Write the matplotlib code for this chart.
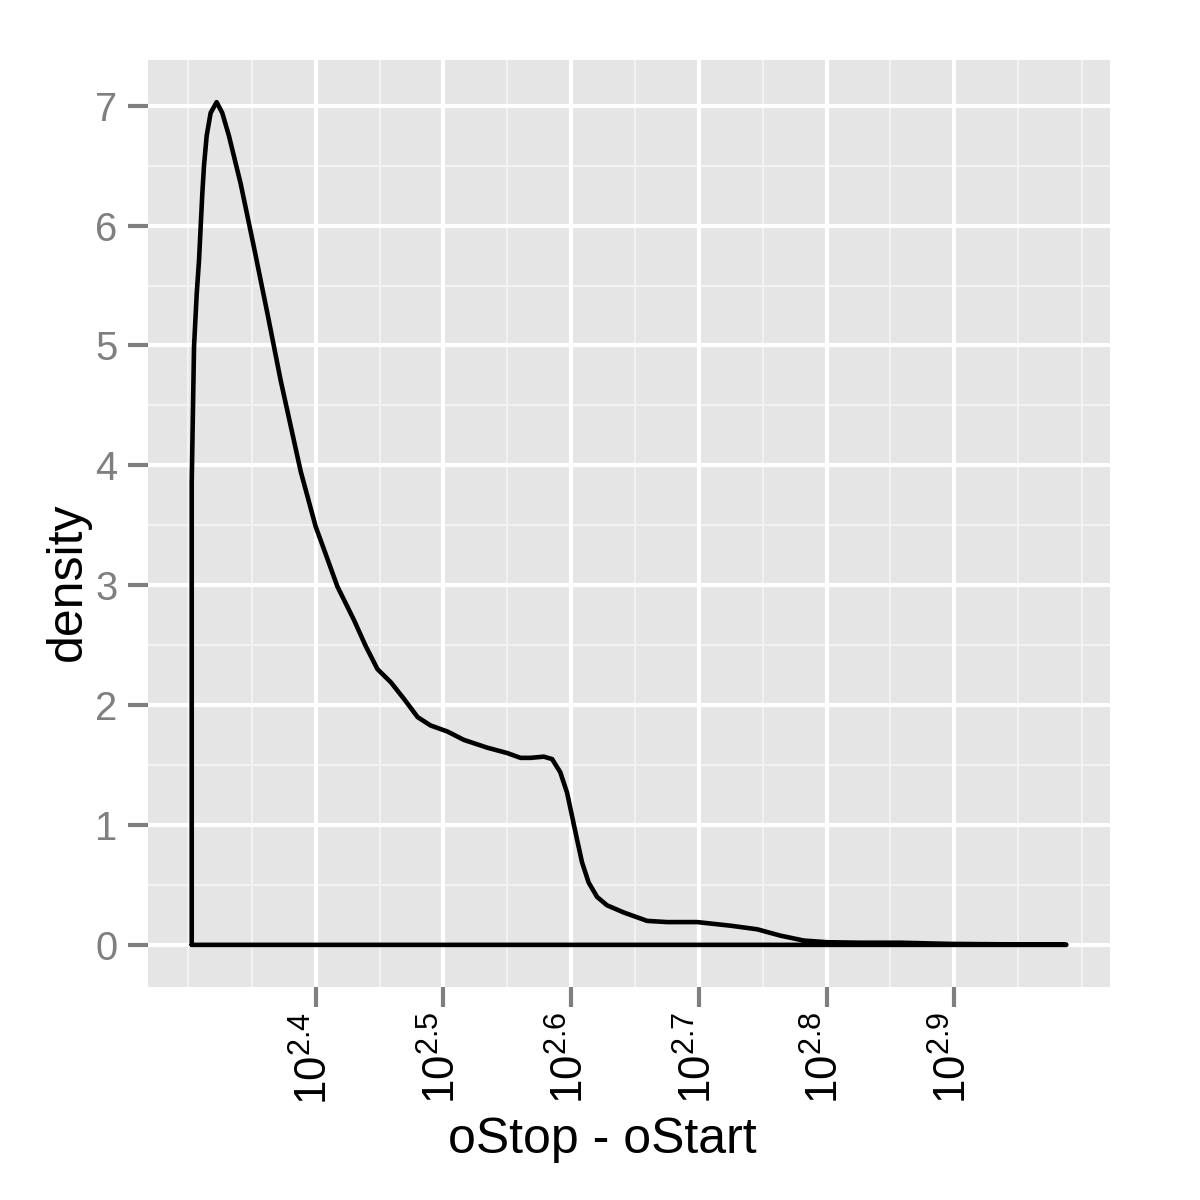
import numpy as np
import matplotlib
matplotlib.use("Agg")
import matplotlib.pyplot as plt

plt.rcParams['font.family'] = ['Liberation Sans', 'DejaVu Sans']
plt.rcParams['mathtext.fontset'] = 'custom'
plt.rcParams['mathtext.rm'] = 'Liberation Sans'
plt.rcParams['mathtext.it'] = 'Liberation Sans'

# density curve, x in log10 units of (oStop - oStart)
x_vals = [2.3030, 2.3048, 2.3069, 2.3087, 2.3113, 2.3126, 2.3147, 2.3178, 2.3225,
          2.3269, 2.3321, 2.3413, 2.3517, 2.3622, 2.3726, 2.3883, 2.4000,
          2.4065, 2.4170, 2.4300, 2.4393, 2.4484, 2.4589, 2.4693, 2.4798, 2.4900,
          2.5031, 2.5160, 2.5343, 2.5500, 2.5604, 2.5683, 2.5786, 2.5851, 2.5915,
          2.5968, 2.6007, 2.6046, 2.6085, 2.6137, 2.6203, 2.6281, 2.6412, 2.6595,
          2.6752, 2.6987, 2.7247, 2.7456, 2.7638, 2.7821, 2.8004, 2.8264, 2.8577,
          2.8969, 2.9360, 2.9876]
y_vals = [3.86, 4.99, 5.43, 5.71, 6.27, 6.50, 6.75, 6.94, 7.03,
          6.94, 6.75, 6.35, 5.82, 5.27, 4.71, 3.95, 3.49,
          3.30, 2.99, 2.71, 2.49, 2.30, 2.19, 2.05, 1.90, 1.83,
          1.78, 1.71, 1.645, 1.60, 1.56, 1.56, 1.57, 1.55, 1.44,
          1.27, 1.075, 0.88, 0.69, 0.52, 0.40, 0.33, 0.27, 0.20,
          0.19, 0.19, 0.16, 0.13, 0.077, 0.036, 0.022, 0.018, 0.018,
          0.008, 0.005, 0.002]

x_major = [2.4, 2.5, 2.6, 2.7, 2.8, 2.9]
x_labels = [r'$10^{2.4}$', r'$10^{2.5}$', r'$10^{2.6}$', r'$10^{2.7}$', r'$10^{2.8}$', r'$10^{2.9}$']
x_minor = [2.3, 2.35, 2.45, 2.55, 2.65, 2.75, 2.85, 2.95, 3.0]
y_major = [0, 1, 2, 3, 4, 5, 6, 7]
y_minor = [0.5, 1.5, 2.5, 3.5, 4.5, 5.5, 6.5]

fig = plt.figure(figsize=(4, 4), dpi=300)
ax = fig.add_axes([148/1200, 1-987/1200, (1110-148)/1200, (987-60)/1200])
ax.set_facecolor('#E5E5E5')
for s in ax.spines.values():
    s.set_visible(False)

xr = max(x_vals) - min(x_vals)
ax.set_xlim(min(x_vals) - 0.05*xr, max(x_vals) + 0.05*xr)
ymax = max(y_vals)
ax.set_ylim(-0.05*ymax, ymax*1.05)

for v in x_minor:
    ax.axvline(v, color='#F2F2F2', lw=0.5, zorder=0.5)
for v in y_minor:
    ax.axhline(v, color='#F2F2F2', lw=0.5, zorder=0.5)
for v in x_major:
    ax.axvline(v, color='white', lw=1.0, zorder=0.6)
for v in y_major:
    ax.axhline(v, color='white', lw=1.0, zorder=0.6)

xs = np.concatenate([[x_vals[0]], x_vals, [x_vals[-1], x_vals[0]]])
ys = np.concatenate([[0], y_vals, [0, 0]])
ax.plot(xs, ys, color='black', lw=1.1, solid_joinstyle='round', solid_capstyle='round', zorder=3)

ax.set_xticks(x_major)
ax.set_xticklabels(x_labels, rotation=90, fontsize=10.5, color='black')
ax.set_yticks(y_major)
ax.set_yticklabels([str(v) for v in y_major], fontsize=9.6, color='#7F7F7F')
ax.tick_params(axis='both', which='major', length=4.8, width=1.0, color='#7F7F7F', pad=2.5)
ax.tick_params(axis='x', pad=1.2)
ax.minorticks_off()

fig.text(602/1200, 1-1140/1200, 'oStop - oStart', fontsize=12, ha='center', va='center')
fig.text(68/1200, 1-582/1200, 'density', fontsize=12, ha='center', va='center', rotation=90)

fig.savefig('out.png', dpi=300, facecolor='white')
